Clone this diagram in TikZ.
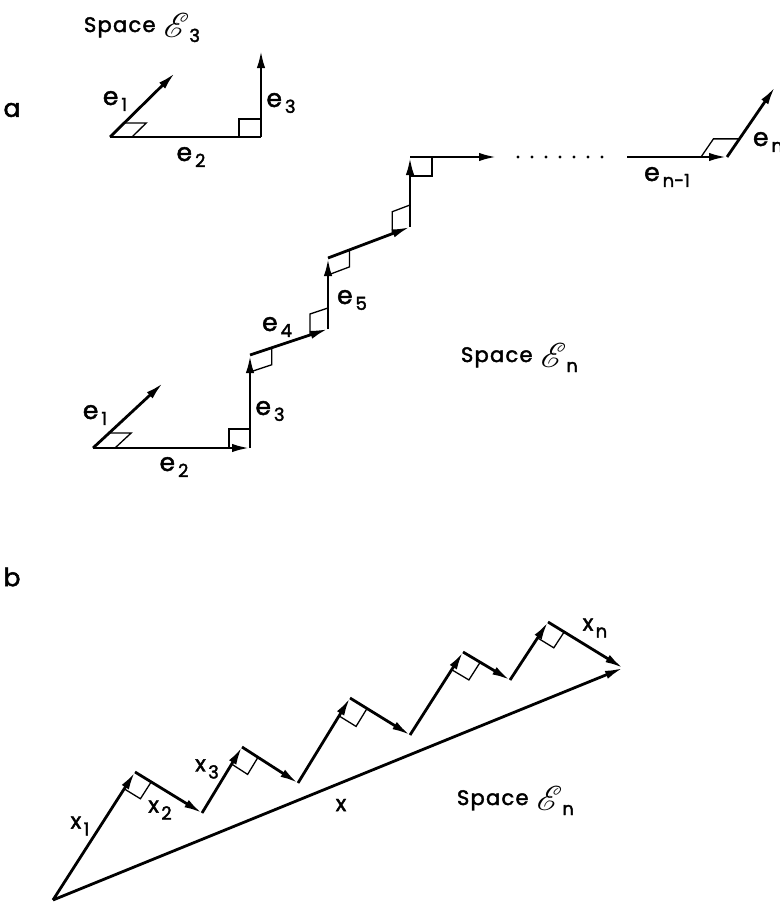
\documentclass[tikz,border=0pt]{standalone}
\usepackage{fontspec}
\usepackage{mathrsfs}
\usetikzlibrary{arrows.meta,calc}
\newfontfamily\lf{Poppins}[FakeBold=2]
\newfontfamily\spf{Poppins}[LetterSpace=6,FakeBold=2]
\newcommand\elbl[2]{{\fontsize{12.5}{12.5}\selectfont\lf #1}\hspace{1.5pt}\raisebox{-3pt}{\fontsize{9}{9}\selectfont\lf #2}}
\newcommand\xlbl[2]{{\fontsize{11}{11}\selectfont\lf #1}\hspace{1.2pt}\raisebox{-3.5pt}{\fontsize{9}{9}\selectfont\lf #2}}
\newcommand\spcl[1]{{\fontsize{10.5}{10.5}\selectfont\spf Space}\hspace{4pt}\raisebox{-2.5pt}{\fontsize{19}{19}\selectfont$\mathscr{E}$}\hspace{0pt}\raisebox{-5pt}{\fontsize{9}{9}\selectfont\lf #1}}
\newcommand\ramark[5]{%
  \path ($(#1)!#4!(#2)$) coordinate (ram-a) ($(#1)!#5!(#3)$) coordinate (ram-b);
  \draw[ra] (ram-a) -- ($(ram-a)+(ram-b)-(#1)$) -- (ram-b);}
\tikzset{
  vec/.style={line width=1.4pt,-{Latex[length=9pt,width=4.2pt]}},
  seg/.style={line width=1.4pt},
  ra/.style={line width=0.65pt},
  lab/.style={inner sep=0pt,outer sep=0pt},
}
\begin{document}
\begin{tikzpicture}[x=0.5pt,y=-0.5pt]
\useasboundingbox (0,0) rectangle (780,905);
% labels a, b
\node[lab,font=\fontsize{12.5}{12.5}\selectfont\lf] (la) at (12,110) {a};
\node[lab,font=\fontsize{12.5}{12.5}\selectfont\lf] (lb) at (12,577) {b};
% ---- Space E3 ----
\node[lab,anchor=base west] (s3) at (84,32) {\spcl{3}};
\coordinate (T0) at (110,137);
\coordinate (T1) at (175,73);
\coordinate (T2) at (261,137);
\coordinate (T3) at (261,50);
\draw[vec] (T0) -- (T1);
\draw[seg] (T0) -- (T2);
\draw[vec] (T2) -- (T3);
\ramark{T0}{T1}{T2}{10pt}{11pt}
\ramark{T2}{T0}{T3}{11pt}{9pt}
\node[lab] (te1) at (115,101) {\elbl{e}{1}};
\node[lab] (te3) at (281,103) {\elbl{e}{3}};
\node[lab] (te2) at (191,157) {\elbl{e}{2}};
% ---- staircase ----
\coordinate (B0) at (93,448);
\coordinate (B1) at (163,383);
\coordinate (B2) at (250,448);
\coordinate (B3) at (250,355);
\coordinate (B4) at (328,329);
\coordinate (B5) at (328,258);
\coordinate (B6) at (410,227);
\coordinate (B7) at (410,157);
\coordinate (B8) at (497,157);
\coordinate (C0) at (627,157);
\coordinate (C1) at (727,157);
\coordinate (C2) at (775,87);
\draw[vec] (B0) -- (B1);
\draw[vec] (B0) -- (B2);
\draw[vec] (B2) -- (B3);
\draw[vec] (B3) -- (B4);
\draw[vec] (B4) -- (B5);
\draw[vec] (B5) -- (B6);
\draw[vec] (B6) -- (B7);
\draw[vec] (B7) -- (B8);
\draw[vec] (C0) -- (C1);
\draw[vec] (C1) -- (C2);
\foreach \i in {0,...,6} \fill ({518+14*\i},157) circle (0.85pt);
\ramark{B0}{B1}{B2}{11pt}{11pt}
\ramark{B2}{B0}{B3}{10.5pt}{9.5pt}
\ramark{B3}{B2}{B4}{8.5pt}{11.5pt}
\ramark{B4}{B3}{B5}{9.5pt}{10.5pt}
\ramark{B5}{B4}{B6}{8.5pt}{11.5pt}
\ramark{B6}{B5}{B7}{9.5pt}{11pt}
\ramark{B7}{B6}{B8}{9.5pt}{11pt}
\ramark{C1}{C0}{C2}{13pt}{11pt}
\node[lab] (be1) at (95,415) {\elbl{e}{1}};
\node[lab] (be2) at (174,467) {\elbl{e}{2}};
\node[lab] (be3) at (270,411) {\elbl{e}{3}};
\node[lab] (be4) at (277,327) {\elbl{e}{4}};
\node[lab] (be5) at (352,300) {\elbl{e}{5}};
\node[lab] (ben1) at (667,177) {\elbl{e}{n-1}};
\node[lab] (ben) at (768,142) {\elbl{e}{n}};
\node[lab,anchor=base west] (sna) at (461,362) {\spcl{n}};
% ---- part b ----
\coordinate (P0) at (53,900);
\coordinate (P1) at (135,772);
\coordinate (P2) at (202,813);
\coordinate (P3) at (242,747);
\coordinate (P4) at (298,783);
\coordinate (P5) at (350,698);
\coordinate (P6) at (410,735);
\coordinate (P7) at (463,652);
\coordinate (P8) at (510,680);
\coordinate (P9) at (548,622);
\coordinate (P10) at (623,668);
\foreach \a/\b in {P0/P1,P1/P2,P2/P3,P3/P4,P4/P5,P5/P6,P6/P7,P7/P8,P8/P9,P9/P10}
  \draw[vec] (\a) -- (\b);
\draw[vec] (P0) -- (P10);
\ramark{P1}{P0}{P2}{10pt}{9.5pt}
\ramark{P3}{P2}{P4}{10pt}{9.5pt}
\ramark{P5}{P4}{P6}{10.5pt}{10pt}
\ramark{P7}{P6}{P8}{10.5pt}{10pt}
\ramark{P9}{P8}{P10}{9.5pt}{9.5pt}
\node[lab] (x1) at (80,826) {\xlbl{x}{1}};
\node[lab] (x2) at (160,810) {\xlbl{x}{2}};
\node[lab] (x3) at (207,769) {\xlbl{x}{3}};
\node[lab] (xn) at (595,628) {\xlbl{x}{n}};
\node[lab,font=\fontsize{11}{11}\selectfont\lf] (xx) at (341,805) {x};
\node[lab,anchor=base west] (snb) at (457,805) {\spcl{n}};
\end{tikzpicture}
\end{document}
